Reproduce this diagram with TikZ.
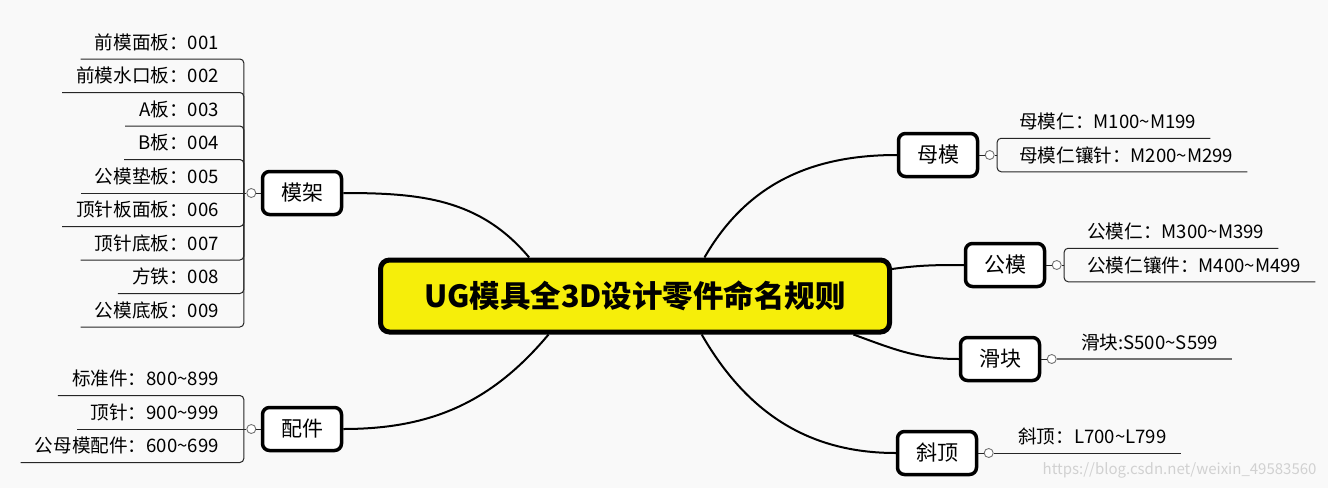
\documentclass[tikz,border=0pt]{standalone}
\usepackage{fontspec}
\setmainfont{Noto Sans CJK SC}
\usepackage{xcolor}
\usetikzlibrary{positioning}
\definecolor{bgcolor}{RGB}{249,249,249}
\definecolor{titleyellow}{RGB}{246,238,10}
\tikzset{
   topic/.style={draw,line width=3.5pt,rounded corners=7pt,fill=white,
      minimum width=79pt,minimum height=43pt,font=\fontsize{21}{24}\selectfont},
   leaf/.style={inner xsep=14pt,inner ysep=9.5pt,text depth=0pt,
      font=\fontsize{18.6}{20}\selectfont},
   knob/.style={circle,draw=black!55,fill=white,line width=0.9pt,inner sep=0pt,minimum size=9pt},
   branch/.style={line width=2pt},
   twig/.style={line width=1pt,black!85},
 }

\begin{document}
\begin{tikzpicture}[x=1pt,y=-1pt]
      \useasboundingbox[fill=bgcolor] (0,0) rectangle (1328,488);
      % centre and main topics
      \node (title) at (635,296) [draw,line width=5pt,rounded corners=9pt,fill=titleyellow,
         minimum width=509pt,minimum height=72pt,font=\fontsize{30.5}{34}\selectfont\bfseries]
         {UG模具全3D设计零件命名规则};
      \node (mojia) at (302,193) [topic] {模架};
      \node (peijian) at (302,429) [topic] {配件};
      \node (mumo) at (938,155) [topic] {母模};
      \node (gongmo) at (1005,265) [topic] {公模};
      \node (huakuai) at (1000,359) [topic] {滑块};
      \node (xieding) at (937,453) [topic] {斜顶};

      \draw [branch] (mojia.east) to[out=0,in=130] (title.160);
      \draw [branch] (peijian.east) to[out=0,in=230] (title.204);
      \draw [branch] (title.29) to[out=60,in=180] (mumo.west);
      \draw [branch] (title.6) to[out=8,in=180] (gongmo.west);
      \draw [branch] (title.-10.5) to[out=-20,in=180] (huakuai.west);
      \draw [branch] (title.-30) to[out=-60,in=180] (xieding.west);

      % knobs
      \node (kmojia) [knob,left=4.5pt of mojia] {};
      \node (kpeijian) [knob,left=4.5pt of peijian] {};
      \node (kmumo) [knob,right=5.5pt of mumo] {};
      \node (kgongmo) [knob,right=5.5pt of gongmo] {};
      \node (khuakuai) [knob,right=5.5pt of huakuai] {};
      \node (kxieding) [knob,right=5.5pt of xieding] {};
      \foreach \a in {mojia,peijian} \draw [twig] (\a.west) -- (k\a);
      \foreach \a in {mumo,gongmo,huakuai,xieding} \draw [twig] (\a.east) -- (k\a);

      % 模架
      \foreach \t [count=\i] in {前模面板：001,前模水口板：002,A板：003,B板：004,公模垫板：005,
            顶针板面板：006,顶针底板：007,方铁：008,公模底板：009}
         \node (mj\i) at (233,{25.5+33.5*\i}) [leaf,anchor=south east] {\t};
      \draw [twig] (kmojia.west) -- ++(-2.5,0) coordinate (mjs);
      \foreach \i in {1,2,3,4,6,7,8,9}
         \draw [twig,rounded corners=4pt] (mjs) |- (mj\i.south west);
      \draw [twig] (mjs) -- (mj5.south west);

      % 配件
      \foreach \t [count=\i] in {标准件：800\textasciitilde899,顶针：900\textasciitilde999,公母模配件：600\textasciitilde699}
         \node (pj\i) at (233,{362+33.5*\i}) [leaf,anchor=south east] {\t};
      \draw [twig] (kpeijian.west) -- ++(-2.5,0) coordinate (pjs);
      \foreach \i in {1,3}
         \draw [twig,rounded corners=4pt] (pjs) |- (pj\i.south west);
      \draw [twig] (pjs) -- (pj2.south west);

      % 母模
      \node (mm1) at (1005,138.25) [leaf,anchor=south west] {母模仁：M100\textasciitilde M199};
      \node (mm2) at (1005,171.75) [leaf,anchor=south west] {母模仁镶针：M200\textasciitilde M299};
      \draw [twig] (kmumo.east) -- ++(2.5,0) coordinate (mms);
      \foreach \i in {1,2}
         \draw [twig,rounded corners=4pt] (mms) |- (mm\i.south east);

      % 公模
      \node (gm1) at (1073,248.25) [leaf,anchor=south west] {公模仁：M300\textasciitilde M399};
      \node (gm2) at (1073,281.75) [leaf,anchor=south west] {公模仁镶件：M400\textasciitilde M499};
      \draw [twig] (kgongmo.east) -- ++(2.5,0) coordinate (gms);
      \foreach \i in {1,2}
         \draw [twig,rounded corners=4pt] (gms) |- (gm\i.south east);

      % 滑块, 斜顶
      \node (hk1) at (1067,359) [leaf,anchor=south west] {滑块:S500\textasciitilde S599};
      \draw [line width=1.8pt,black!55] (khuakuai.east) -- (hk1.south east);
      \node (xd1) at (1004,453) [leaf,anchor=south west] {斜顶：L700\textasciitilde L799};
      \draw [twig] (kxieding.east) -- (xd1.south east);

      \node (wm) at (1320,470) [anchor=east,text=black!18,font=\fontsize{15}{18}\selectfont]
         {https://blog.csdn.net/weixin\_49583560};
\end{tikzpicture}
\end{document}
